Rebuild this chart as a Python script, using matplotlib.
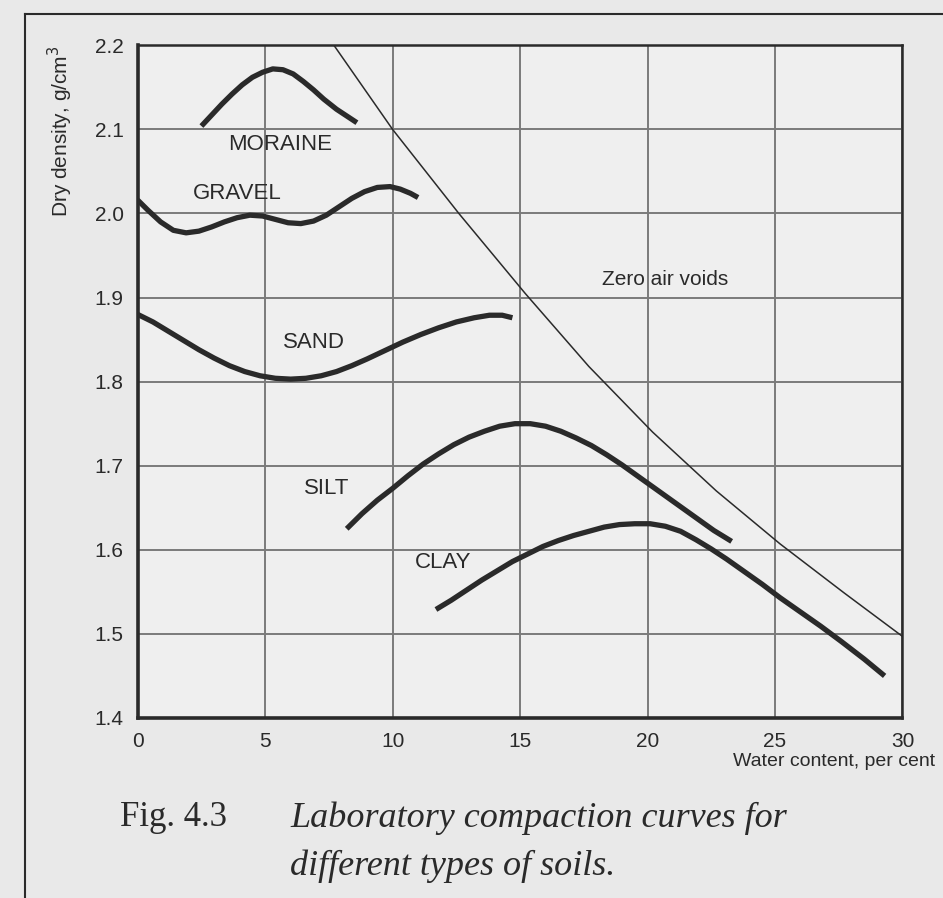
import matplotlib.pyplot as plt
from matplotlib.lines import Line2D

# water content (%) and dry density (g/cm3)
moraine_w = [2.5, 2.9, 3.3, 3.7, 4.1, 4.5, 4.9, 5.3, 5.7, 6.1, 6.5, 6.9, 7.3, 7.8, 8.2, 8.6]
moraine_d = [2.104, 2.117, 2.130, 2.142, 2.153, 2.162, 2.168, 2.172, 2.171, 2.166, 2.157, 2.147, 2.136, 2.124, 2.116, 2.108]

gravel_w = [0.0, 0.4, 0.9, 1.4, 1.9, 2.4, 2.9, 3.4, 3.9, 4.4, 4.9, 5.4, 5.9, 6.4, 6.9,
            7.4, 7.9, 8.4, 8.9, 9.4, 9.9, 10.3, 10.7, 11.0]
gravel_d = [2.016, 2.004, 1.990, 1.980, 1.977, 1.979, 1.984, 1.990, 1.995, 1.998, 1.997, 1.993,
            1.989, 1.988, 1.991, 1.998, 2.008, 2.018, 2.026, 2.031, 2.032, 2.029, 2.024, 2.019]

sand_w = [0.0, 0.6, 1.2, 1.8, 2.4, 3.0, 3.6, 4.2, 4.8, 5.4, 6.0, 6.6, 7.2, 7.8, 8.4, 9.0,
          9.7, 10.4, 11.1, 11.8, 12.5, 13.2, 13.8, 14.3, 14.7]
sand_d = [1.880, 1.871, 1.860, 1.849, 1.838, 1.828, 1.819, 1.812, 1.807, 1.804, 1.803, 1.804,
          1.807, 1.812, 1.819, 1.827, 1.837, 1.847, 1.856, 1.864, 1.871, 1.876, 1.879, 1.879, 1.876]

silt_w = [8.2, 8.8, 9.4, 10.0, 10.6, 11.2, 11.8, 12.4, 13.0, 13.6, 14.2, 14.8, 15.4, 16.0,
          16.6, 17.2, 17.8, 18.4, 19.0, 19.6, 20.2, 20.8, 21.4, 22.0, 22.6, 23.3]
silt_d = [1.625, 1.643, 1.659, 1.673, 1.688, 1.702, 1.714, 1.725, 1.734, 1.741, 1.747, 1.750,
          1.750, 1.747, 1.741, 1.733, 1.724, 1.713, 1.701, 1.688, 1.675, 1.662, 1.649, 1.636,
          1.623, 1.610]

clay_w = [11.7, 12.3, 12.9, 13.5, 14.1, 14.7, 15.3, 15.9, 16.5, 17.1, 17.7, 18.3, 18.9,
          19.5, 20.1, 20.7, 21.3, 21.9, 22.5, 23.1, 23.8, 24.5, 25.2, 26.0, 26.8, 27.6, 28.5, 29.3]
clay_d = [1.529, 1.540, 1.552, 1.564, 1.575, 1.586, 1.595, 1.604, 1.611, 1.617, 1.622, 1.627,
          1.630, 1.631, 1.631, 1.628, 1.622, 1.612, 1.601, 1.589, 1.574, 1.559, 1.543, 1.526,
          1.509, 1.491, 1.470, 1.450]

zav_w = [7.7, 10.0, 12.6, 15.2, 17.7, 20.2, 22.7, 25.2, 27.7, 30.0]
zav_d = [2.200, 2.100, 2.000, 1.905, 1.818, 1.740, 1.670, 1.607, 1.549, 1.497]

x_ticks = [0, 5, 10, 15, 20, 25, 30]
y_ticks = [1.4, 1.5, 1.6, 1.7, 1.8, 1.9, 2.0, 2.1, 2.2]

soil_labels = ["MORAINE", "GRAVEL", "SAND", "SILT", "CLAY"]
label_w = [5.6, 3.9, 6.9, 7.4, 12.0]
label_d = [2.082, 2.024, 1.847, 1.673, 1.585]

ink = "#2a2a2a"
paper = "#e9e9e9"

fig = plt.figure(figsize=(9.43, 8.98), dpi=100, facecolor=paper)
ax = fig.add_axes([0.146, 0.2005, 0.811, 0.749])
ax.set_facecolor("#efefef")

ax.set_xlim(0, 30)
ax.set_ylim(1.4, 2.2)
ax.set_xticks(x_ticks)
ax.set_yticks(y_ticks)
ax.set_xticklabels([str(t) for t in x_ticks])
ax.set_yticklabels([f"{t:.1f}" for t in y_ticks])
ax.tick_params(length=0, labelsize=15, colors=ink, pad=10)
for lab in ax.get_xticklabels() + ax.get_yticklabels():
    lab.set_family("Liberation Sans")
ax.grid(True, color="#7a7a7a", lw=1.4)
ax.set_axisbelow(True)
for side, w in [("left", 2.6), ("bottom", 2.6), ("top", 1.8), ("right", 1.8)]:
    ax.spines[side].set_linewidth(w)
    ax.spines[side].set_color(ink)

ax.plot(zav_w, zav_d, color=ink, lw=1.1)
for w, d in [(moraine_w, moraine_d), (gravel_w, gravel_d), (sand_w, sand_d),
             (silt_w, silt_d), (clay_w, clay_d)]:
    ax.plot(w, d, color=ink, lw=3.8, solid_capstyle="butt", solid_joinstyle="round")

for name, w, d in zip(soil_labels, label_w, label_d):
    ax.text(w, d, name, ha="center", va="center", fontsize=16,
            family="Liberation Sans", color=ink)
ax.text(20.7, 1.922, "Zero air voids", ha="center", va="center", fontsize=15,
        family="Liberation Sans", color=ink)

ax.set_ylabel("Dry density, g/cm$^3$", loc="top", fontsize=15,
              family="Liberation Sans", color=ink, labelpad=14)
fig.text(935 / 943, 1 - 762 / 898, "Water content, per cent", ha="right",
         va="center", fontsize=14, family="Liberation Sans", color=ink)

fig.text(120 / 943, 1 - 818 / 898, "Fig. 4.3", ha="left", va="center",
         fontsize=25, family="Liberation Serif", color=ink)
fig.text(290 / 943, 1 - 818 / 898, "Laboratory compaction curves for",
         ha="left", va="center", fontsize=26, family="Liberation Serif",
         style="italic", color=ink)
fig.text(290 / 943, 1 - 866 / 898, "different types of soils.",
         ha="left", va="center", fontsize=26, family="Liberation Serif",
         style="italic", color=ink)

# page frame from the scan
fig.add_artist(Line2D([25 / 943, 25 / 943], [0, 1 - 14 / 898],
                      transform=fig.transFigure, color=ink, lw=1.5))
fig.add_artist(Line2D([25 / 943, 1], [1 - 14 / 898, 1 - 14 / 898],
                      transform=fig.transFigure, color=ink, lw=1.5))

fig.savefig("out.png", dpi=100, facecolor=paper)
